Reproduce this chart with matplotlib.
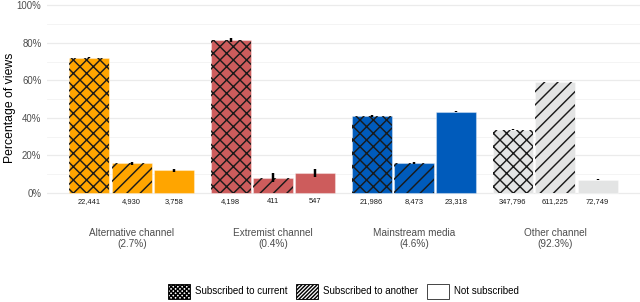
import matplotlib
matplotlib.use('Agg')
import matplotlib.pyplot as plt
from matplotlib.patches import Patch
import numpy as np

plt.rcParams['font.family'] = ['Liberation Sans', 'DejaVu Sans']
plt.rcParams['hatch.linewidth'] = 1.3

# data
groups = ['Alternative channel\n(2.7%)', 'Extremist channel\n(0.4%)',
          'Mainstream media\n(4.6%)', 'Other channel\n(92.3%)']
series = ['Subscribed to current', 'Subscribed to another', 'Not subscribed']

pct_current = [72.1, 81.4, 40.9, 33.7]
pct_another = [15.8, 8.0, 15.8, 59.2]
pct_not = [12.1, 10.6, 43.4, 7.1]

err_current = [0.3, 0.9, 0.4, 0.15]
err_another = [0.8, 2.4, 0.5, 0.15]
err_not = [0.7, 2.3, 0.3, 0.15]

n_current = ['22,441', '4,198', '21,986', '347,796']
n_another = ['4,930', '411', '8,473', '611,225']
n_not = ['3,758', '547', '23,318', '72,749']

group_colors = ['#FFA500', '#CD5C5C', '#005BBB', '#E3E4E4']
hatches = ['xx', '//', '']

fig = plt.figure(figsize=(8, 3.775), dpi=80)
ax = fig.add_axes([0.0734, 0.297, 0.9266, 0.703])

x = np.arange(len(groups))
width = 0.283
offsets = [-0.3, 0.0, 0.3]
all_pct = [pct_current, pct_another, pct_not]
all_err = [err_current, err_another, err_not]
all_n = [n_current, n_another, n_not]

for s in range(3):
    xs = x + offsets[s]
    ax.bar(xs, all_pct[s], width, color=group_colors,
           edgecolor=(1, 1, 1, 0.35), linewidth=1.0, zorder=2)
    if hatches[s]:
        ax.bar(xs, all_pct[s], width, fill=False, hatch=hatches[s],
               edgecolor='#1a1a1a', linewidth=0, zorder=3)
    ax.errorbar(xs, all_pct[s], yerr=all_err[s], fmt='none',
                ecolor='black', elinewidth=2.2, capsize=0, zorder=4)
    for xi, lab in zip(xs, all_n[s]):
        ax.text(xi, -4.8, lab, ha='center', va='center',
                fontsize=6.8, color='#1a1a1a')

ax.set_xlim(-0.6, 3.6)
ax.set_ylim(-10.3, 102.8)

ax.set_yticks([0, 20, 40, 60, 80, 100])
ax.set_yticklabels(['0%', '20%', '40%', '60%', '80%', '100%'])
ax.set_yticks([-10, 10, 30, 50, 70, 90], minor=True)
ax.grid(True, 'major', 'y', color='#EBEBEB', lw=1.1, zorder=0)
ax.grid(True, 'minor', 'y', color='#F2F2F2', lw=0.7, zorder=0)
ax.set_axisbelow(True)
ax.tick_params(axis='y', which='both', length=0, pad=5,
               labelsize=8.7, labelcolor='#4D4D4D')
ax.set_xticks([])
for sp in ax.spines.values():
    sp.set_visible(False)

ax.set_ylabel('Percentage of views', fontsize=11, color='black')
ax.yaxis.set_label_coords(-0.053, 0.494)

for xi, g in zip(x, groups):
    ax.text(xi, -18.4, g, ha='center', va='top', fontsize=9.0,
            color='#4D4D4D', linespacing=1.2)

handles = [Patch(facecolor='white', edgecolor='black', hatch='x' * 6, lw=0.8),
           Patch(facecolor='white', edgecolor='black', hatch='/' * 7, lw=0.8),
           Patch(facecolor='white', edgecolor='#333333', lw=0.8)]
fig.legend(handles, series, loc='center', bbox_to_anchor=(0.537, 0.036),
           ncol=3, frameon=False, fontsize=8.8, handlelength=2.25,
           handleheight=2.0, handletextpad=0.5, columnspacing=0.9)

fig.savefig('out.png', dpi=80)
